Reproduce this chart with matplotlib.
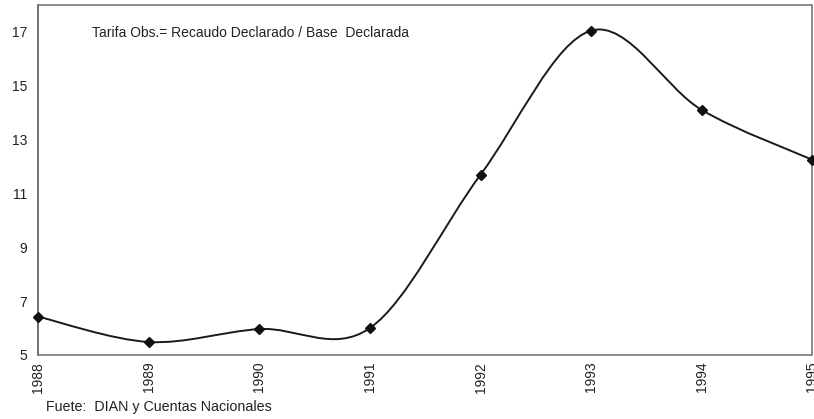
import matplotlib
matplotlib.use("Agg")
import matplotlib.pyplot as plt
from matplotlib.path import Path
from matplotlib.patches import PathPatch

# data
years = [1988, 1989, 1990, 1991, 1992, 1993, 1994, 1995]
tarifa = [6.42, 5.48, 5.96, 6.0, 11.7, 17.05, 14.1, 12.25]
yticks = [5, 7, 9, 11, 13, 15, 17]

plt.rcParams['font.family'] = ['Liberation Sans', 'DejaVu Sans']


def smooth_path(xs, ys):
    # Excel-style smoothed line: cubic bezier segments (Catmull-Rom tangents)
    pts = list(zip(xs, ys))
    verts = [pts[0]]
    codes = [Path.MOVETO]
    n = len(pts)
    for i in range(n - 1):
        p0 = pts[i - 1] if i > 0 else pts[i]
        p1 = pts[i]
        p2 = pts[i + 1]
        p3 = pts[i + 2] if i + 2 < n else pts[i + 1]
        c1 = (p1[0] + (p2[0] - p0[0]) / 6, p1[1] + (p2[1] - p0[1]) / 6)
        c2 = (p2[0] - (p3[0] - p1[0]) / 6, p2[1] - (p3[1] - p1[1]) / 6)
        verts += [c1, c2, p2]
        codes += [Path.CURVE4] * 3
    return Path(verts, codes)


def main():
    fig = plt.figure(figsize=(8.14, 4.19), dpi=100)
    ax = fig.add_axes([0.047, 0.153, 0.951, 0.835])

    patch = PathPatch(smooth_path(years, tarifa), facecolor='none',
                      edgecolor='#1a1a1a', linewidth=1.4, clip_on=False)
    ax.add_patch(patch)
    ax.plot(years, tarifa, linestyle='none', marker='D', markersize=5,
            color='#111111', clip_on=False, zorder=3)

    ax.set_xlim(1988, 1995)
    ax.set_ylim(5, 18)
    ax.set_yticks(yticks)
    ax.set_xticks(years)
    ax.set_xticklabels([str(y) for y in years], rotation=90)
    ax.tick_params(axis='both', labelsize=10, length=0, colors='#222222')
    ax.tick_params(axis='y', pad=8)
    ax.tick_params(axis='x', pad=5)

    for side in ['top', 'bottom', 'right']:
        ax.spines[side].set_color('#777777')
        ax.spines[side].set_linestyle((0, (2, 1)))
        ax.spines[side].set_linewidth(1.2)
    ax.spines['left'].set_color('#555555')
    ax.spines['left'].set_linewidth(1.2)

    ax.text(1988.49, 16.95, 'Tarifa Obs.= Recaudo Declarado / Base  Declarada',
            fontsize=10, color='#222222', va='center')
    fig.text(0.056, 0.018, 'Fuete:  DIAN y Cuentas Nacionales',
             fontsize=10.3, color='#222222')

    plt.savefig('out.png', dpi=100)


if __name__ == "__main__":
    main()
